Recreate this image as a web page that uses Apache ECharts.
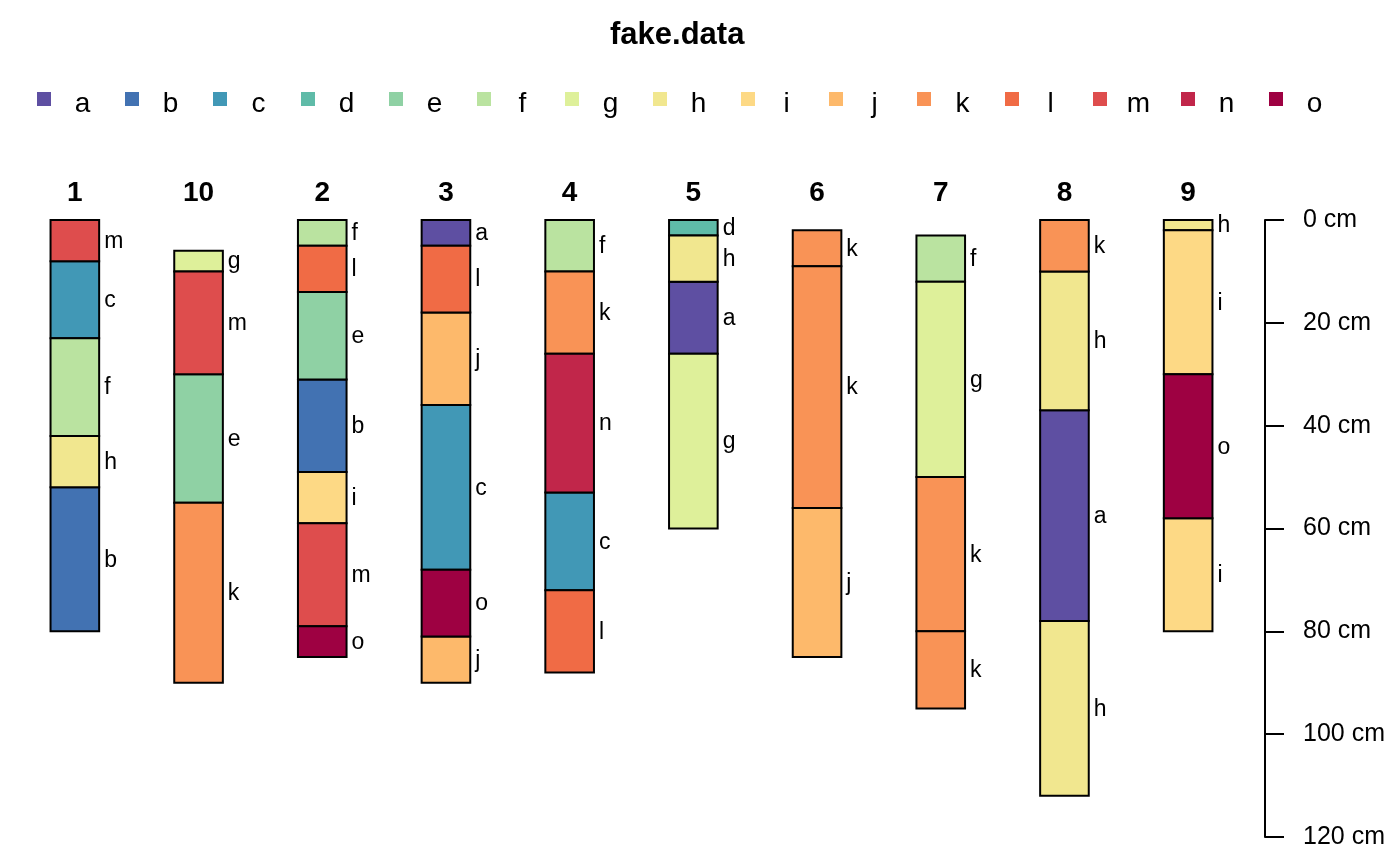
<!DOCTYPE html>
<html>
<head>
<meta charset="utf-8">
<script src="https://cdn.jsdelivr.net/npm/echarts@6/dist/echarts.min.js"></script>
<style>
  html, body { margin: 0; padding: 0; background: #fff; }
  #chart { width: 1400px; height: 866px; }
</style>
</head>
<body>
<div id="chart"></div>
<script>
// horizon designations (legend order) and their colours
var horizonNames = ['a', 'b', 'c', 'd', 'e', 'f', 'g', 'h', 'i', 'j', 'k', 'l', 'm', 'n', 'o'];
var palette = ['#5E4FA2', '#4272B2', '#4198B6', '#5FBBA8', '#8FD1A4', '#BAE3A0', '#DEF09A', '#F1E78F',
	'#FDD985', '#FDB96B', '#F99356', '#F06B45', '#DE4D4D', '#C1264A', '#9E0142'];

// profile ids, in plotting order
var profiles = ['1', '10', '2', '3', '4', '5', '6', '7', '8', '9'];

// horizon boundaries (cm) and names, one pair per profile
var p1Depths = [0, 8, 23, 42, 52, 80];
var p1Names = ['m', 'c', 'f', 'h', 'b'];
var p10Depths = [6, 10, 30, 55, 90];
var p10Names = ['g', 'm', 'e', 'k'];
var p2Depths = [0, 5, 14, 31, 49, 59, 79, 85];
var p2Names = ['f', 'l', 'e', 'b', 'i', 'm', 'o'];
var p3Depths = [0, 5, 18, 36, 68, 81, 90];
var p3Names = ['a', 'l', 'j', 'c', 'o', 'j'];
var p4Depths = [0, 10, 26, 53, 72, 88];
var p4Names = ['f', 'k', 'n', 'c', 'l'];
var p5Depths = [0, 3, 12, 26, 60];
var p5Names = ['d', 'h', 'a', 'g'];
var p6Depths = [2, 9, 56, 85];
var p6Names = ['k', 'k', 'j'];
var p7Depths = [3, 12, 50, 80, 95];
var p7Names = ['f', 'g', 'k', 'k'];
var p8Depths = [0, 10, 37, 78, 112];
var p8Names = ['k', 'h', 'a', 'h'];
var p9Depths = [0, 2, 30, 58, 80];
var p9Names = ['h', 'i', 'o', 'i'];

var depthTicks = [0, 20, 40, 60, 80, 100, 120];

var profileDepths = [p1Depths, p10Depths, p2Depths, p3Depths, p4Depths, p5Depths, p6Depths, p7Depths, p8Depths, p9Depths];
var profileNames = [p1Names, p10Names, p2Names, p3Names, p4Names, p5Names, p6Names, p7Names, p8Names, p9Names];

var fontFamily = '"Liberation Sans", Arial, sans-serif';

function renderHorizon(params, api) {
	var x = api.coord([api.value(0), 0])[0];
	var top = api.coord([api.value(0), api.value(1)])[1];
	var bottom = api.coord([api.value(0), api.value(2)])[1];
	var w = api.size([1, 0])[0] * 0.393;
	return {
		type: 'group',
		children: [{
			type: 'rect',
			shape: { x: x - w / 2, y: top, width: w, height: bottom - top },
			style: { fill: api.visual('color'), stroke: '#000', lineWidth: 2 }
		}, {
			type: 'text',
			x: x + w / 2 + 5,
			y: (top + bottom) / 2 + 1,
			style: {
				text: params.seriesName,
				fill: '#000',
				fontSize: 23,
				fontFamily: fontFamily,
				align: 'left',
				verticalAlign: 'middle'
			}
		}]
	};
}

// one custom series per horizon designation
var series = horizonNames.map(function(h, k) {
	var data = [];
	for (var i = 0; i < profiles.length; i++) {
		for (var j = 0; j < profileNames[i].length; j++) {
			if (profileNames[i][j] === h) {
				data.push([i, profileDepths[i][j], profileDepths[i][j + 1]]);
			}
		}
	}
	return {
		name: h,
		type: 'custom',
		renderItem: renderHorizon,
		itemStyle: { color: palette[k] },
		encode: { x: 0, y: [1, 2] },
		data: data
	};
});

var option = {
	animation: false,
	title: {
		text: 'fake.data',
		left: 610,
		top: 20,
		padding: 0,
		textStyle: { fontSize: 31, fontWeight: 'bold', color: '#000', fontFamily: fontFamily }
	},
	legend: {
		data: horizonNames,
		left: 37,
		top: 80,
		padding: 0,
		icon: 'rect',
		itemWidth: 14,
		itemHeight: 14,
		itemGap: 16,
		itemStyle: { borderWidth: 0 },
		formatter: '{t|{name}}',
		textStyle: {
			color: '#000',
			fontSize: 28,
			fontFamily: fontFamily,
			rich: {
				t: { width: 53, align: 'center', fontSize: 28, lineHeight: 28, padding: [10, 0, 0, 0], fontFamily: fontFamily, color: '#000' }
			}
		}
	},
	grid: {
		left: 13,
		right: 150,
		top: 220,
		bottom: 29
	},
	xAxis: {
		type: 'category',
		position: 'top',
		data: profiles,
		axisLine: { show: false },
		axisTick: { show: false },
		axisLabel: {
			interval: 0,
			margin: 13,
			fontSize: 28,
			fontWeight: 'bold',
			color: '#000',
			fontFamily: fontFamily
		}
	},
	yAxis: {
		type: 'value',
		position: 'right',
		offset: 15,
		inverse: true,
		min: depthTicks[0],
		max: depthTicks[depthTicks.length - 1],
		interval: 20,
		splitLine: { show: false },
		axisLine: { show: true, lineStyle: { color: '#000', width: 2 } },
		axisTick: { show: true, length: 19, lineStyle: { color: '#000', width: 2 } },
		axisLabel: {
			margin: 38,
			fontSize: 25,
			color: '#000',
			fontFamily: fontFamily,
			padding: [4, 0, 0, 0],
			formatter: '{value} cm'
		}
	},
	series: series
};

var chart = echarts.init(document.getElementById('chart'));
chart.setOption(option);
</script>
</body>
</html>
